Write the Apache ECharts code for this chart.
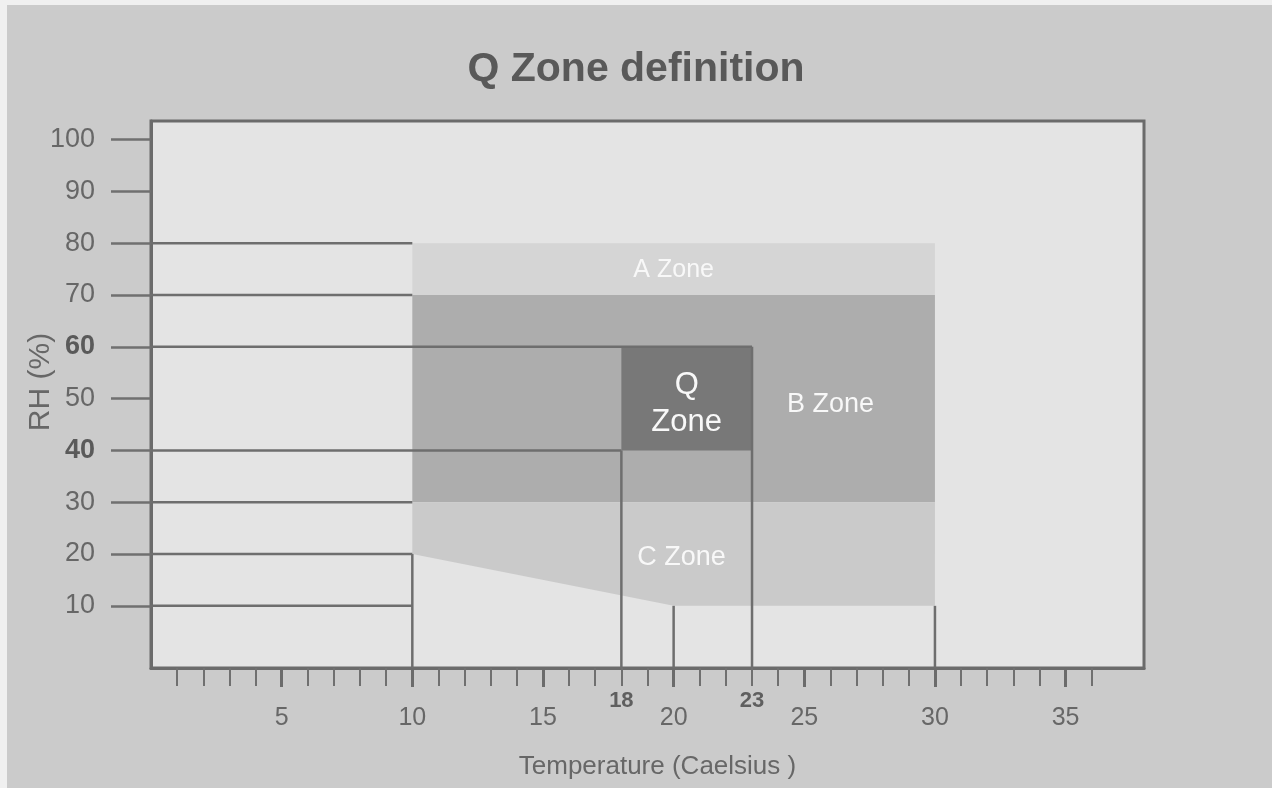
<!DOCTYPE html>
<html>
<head>
<meta charset="utf-8">
<script src="https://cdn.jsdelivr.net/npm/echarts@6/dist/echarts.min.js"></script>
<style>html,body{margin:0;padding:0;background:#cbcbcb;}#c{width:1272px;height:788px;}</style>
</head>
<body>
<div id="c"></div>
<script>
// ---- data ----
const zoneNames = ['A Zone', 'B Zone', 'C Zone', 'Q\nZone'];
const zoneA = [[10, 70], [30, 70], [30, 80], [10, 80]];
const zoneB = [[10, 30], [30, 30], [30, 70], [10, 70]];
const zoneC = [[10, 20], [20, 10], [30, 10], [30, 30], [10, 30]];
const zoneQ = [[18, 40], [23, 40], [23, 60], [18, 60]];
const zoneLabelPos = [[20, 74.8], [26, 48.8], [20.3, 19.3], [20.5, 49.0]];
// horizontal reference lines: [y, x end]
const hLines = [[10, 10], [20, 10], [30, 10], [40, 18], [60, 23], [70, 10], [80, 10]];
// vertical reference lines: [x, y top]
const vLines = [[10, 20], [18, 40], [20, 10], [23, 60], [30, 10]];
const xTickValues = [1,2,3,4,5,6,7,8,9,10,11,12,13,14,15,16,17,18,19,20,21,22,23,24,25,26,27,28,29,30,31,32,33,34,35,36];
const xLabelValues = [5, 10, 15, 20, 25, 30, 35];
const xMajorTicks = [5, 10, 15, 20, 25, 30, 35];
const xBoldLabels = [18, 23];
const yValues = [10, 20, 30, 40, 50, 60, 70, 80, 90, 100];
const yBoldLabels = [40, 60];

const X_MIN = 0, X_MAX = 38, Y_MIN = -2, Y_MAX = 103.6;
const zones = [zoneA, zoneB, zoneC, zoneQ];
const zoneColors = ['#d5d5d5', '#adadad', '#cacaca', '#787878'];
const zoneFont = [25, 27, 27, 31];
const FONT = '"Liberation Sans", Arial, sans-serif';
const lineColor = '#6e6e6e';
const textColor = '#676767';

const chart = echarts.init(document.getElementById('c'), null, {renderer: 'canvas'});

const option = {
  backgroundColor: '#cbcbcb',
  animation: false,
  title: {
    text: 'Q Zone definition',
    left: 'center',
    top: 44,
    textStyle: {fontFamily: FONT, fontSize: 41, fontWeight: 'bold', color: '#595959'}
  },
  graphic: [
    {type: 'rect', shape: {x: 0, y: 0, width: 7, height: 788}, style: {fill: '#f0f0f0'}},
    {type: 'rect', shape: {x: 0, y: 0, width: 1272, height: 5}, style: {fill: '#f0f0f0'}},
    {type: 'text', x: 41, y: 382, rotation: Math.PI / 2,
     style: {text: 'RH (%)', font: '30px ' + FONT, fill: textColor, textAlign: 'center', textVerticalAlign: 'middle'}}
  ],
  grid: {
    left: 151, right: 128, top: 121, bottom: 120,
    show: true, backgroundColor: '#e4e4e4', borderColor: '#6b6b6b', borderWidth: 3
  },
  xAxis: [{
    type: 'value', min: X_MIN, max: X_MAX, position: 'bottom',
    name: 'Temperature (Caelsius )', nameLocation: 'middle', nameGap: 86,
    nameTextStyle: {fontFamily: FONT, fontSize: 26, color: textColor, padding: [0, 0, 0, 20]},
    splitLine: {show: false},
    axisLine: {show: true, onZero: false, lineStyle: {color: '#6b6b6b', width: 3}},
    axisTick: {show: true, inside: false, length: 18, customValues: xTickValues, lineStyle: {color: '#707070', width: 2}},
    axisLabel: {customValues: xLabelValues, margin: 38, fontFamily: FONT, fontSize: 25, color: textColor}
  }, {
    type: 'value', min: X_MIN, max: X_MAX, position: 'bottom',
    splitLine: {show: false},
    axisLine: {show: false, onZero: false},
    axisTick: {show: true, inside: false, length: 19, customValues: xMajorTicks, lineStyle: {color: '#6b6b6b', width: 3}},
    axisLabel: {customValues: xBoldLabels, margin: 22, fontFamily: FONT, fontSize: 22, fontWeight: 'bold', color: '#5f5f5f'}
  }],
  yAxis: {
    type: 'value', min: Y_MIN, max: Y_MAX,
    splitLine: {show: false},
    axisLine: {show: true, onZero: false, lineStyle: {color: '#6b6b6b', width: 3}},
    axisTick: {show: true, inside: false, length: 40, customValues: yValues, lineStyle: {color: '#707070', width: 2.5}},
    axisLabel: {
      customValues: yValues, margin: 56, fontFamily: FONT, fontSize: 27, color: textColor,
      formatter: v => yBoldLabels.indexOf(v) >= 0 ? '{b|' + v + '}' : String(v),
      rich: {b: {fontFamily: FONT, fontSize: 27, fontWeight: 'bold', color: '#5a5a5a'}}
    }
  },
  series: [
    {
      type: 'custom', z: 2,
      data: zones.map((z, i) => [z[0][0], z[0][1], i]),
      renderItem: (params, api) => {
        const i = params.dataIndex;
        const pts = zones[i].map(p => api.coord(p));
        return {type: 'polygon', shape: {points: pts}, style: {fill: zoneColors[i]}};
      }
    },
    {
      type: 'custom', z: 3,
      data: hLines.map(l => [l[1], l[0]]),
      renderItem: (params, api) => {
        const l = hLines[params.dataIndex];
        const a = api.coord([X_MIN, l[0]]);
        const b = api.coord([l[1], l[0]]);
        return {type: 'line', shape: {x1: a[0], y1: a[1], x2: b[0], y2: b[1]}, style: {stroke: lineColor, lineWidth: 2.5}};
      }
    },
    {
      type: 'custom', z: 3,
      data: vLines.map(l => [l[0], l[1]]),
      renderItem: (params, api) => {
        const l = vLines[params.dataIndex];
        const a = api.coord([l[0], Y_MIN]);
        const b = api.coord([l[0], l[1]]);
        return {type: 'line', shape: {x1: a[0], y1: a[1], x2: b[0], y2: b[1]}, style: {stroke: lineColor, lineWidth: 2.5}};
      }
    },
    {
      type: 'custom', z: 4,
      data: zoneLabelPos.map((p, i) => [p[0], p[1], i]),
      renderItem: (params, api) => {
        const i = params.dataIndex;
        const c = api.coord(zoneLabelPos[i]);
        return {type: 'text', x: c[0], y: c[1],
          style: {text: zoneNames[i], font: zoneFont[i] + 'px ' + FONT, fill: '#f8f8f8',
                  textAlign: 'center', textVerticalAlign: 'middle', lineHeight: 37}};
      }
    }
  ]
};
chart.setOption(option);
</script>
</body>
</html>
